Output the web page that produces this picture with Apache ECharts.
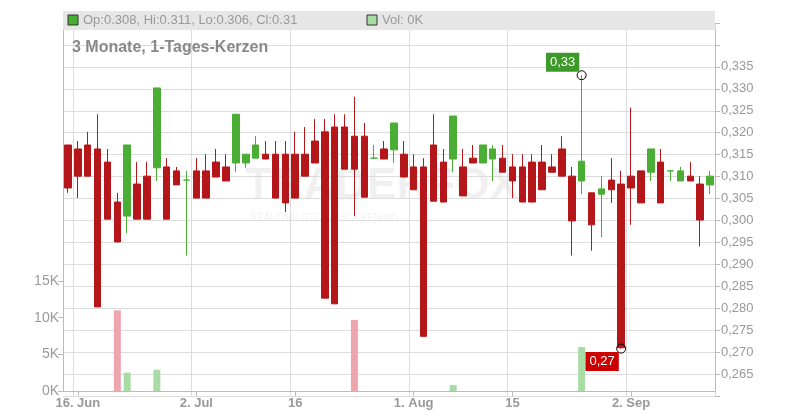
<!DOCTYPE html>
<html><head><meta charset="utf-8">
<script src="https://cdn.jsdelivr.net/npm/echarts@6/dist/echarts.min.js"></script>
<style>html,body{margin:0;padding:0;background:#fff}#c{width:800px;height:420px}</style>
</head><body><div id="c"></div>
<script>
const dates = ["2025-06-13","2025-06-16","2025-06-17","2025-06-18","2025-06-19","2025-06-20","2025-06-23","2025-06-24","2025-06-25","2025-06-26","2025-06-27","2025-06-30",
"2025-07-01","2025-07-02","2025-07-03","2025-07-04","2025-07-07","2025-07-08","2025-07-09","2025-07-10","2025-07-11","2025-07-14","2025-07-15","2025-07-16","2025-07-17","2025-07-18","2025-07-21","2025-07-22","2025-07-23","2025-07-24","2025-07-25","2025-07-28","2025-07-29","2025-07-30","2025-07-31",
"2025-08-01","2025-08-04","2025-08-05","2025-08-06","2025-08-07","2025-08-08","2025-08-11","2025-08-12","2025-08-13","2025-08-14","2025-08-15","2025-08-18","2025-08-19","2025-08-20","2025-08-21","2025-08-22","2025-08-25","2025-08-26","2025-08-27","2025-08-28","2025-08-29",
"2025-09-01","2025-09-02","2025-09-03","2025-09-04","2025-09-05","2025-09-08","2025-09-09","2025-09-10","2025-09-11","2025-09-12"];
const tickLabels = {"2025-06-16":"16. Jun","2025-07-02":"2. Jul","2025-07-16":"16","2025-08-01":"1. Aug","2025-08-15":"15","2025-09-02":"2. Sep"};
const open  = [.3172,.3163,.3172,.3163,.3133,.3042,.3010,.3083,.3101,.3120,.3122,.3113,.3092,.3113,.3113,.3133,.3122,.3131,.3131,.3142,.3151,.3151,.3151,.3151,.3151,.3181,.3202,.3213,.3213,.3192,.3192,.3142,.3163,.3161,.3151,.3122,.3122,.3172,.3133,.3140,.3122,.3142,.3131,.3140,.3142,.3122,.3122,.3133,.3133,.3122,.3163,.3101,.3090,.3063,.3060,.3092,.3083,.3101,.3113,.3110,.3133,.3113,.3090,.3101,.3083,.3081];
const close = [.3074,.3101,.3101,.2803,.3003,.2951,.3172,.3003,.3003,.3302,.3003,.3081,.3092,.3051,.3051,.3099,.3090,.3242,.3151,.3172,.3140,.3051,.3040,.3051,.3101,.3131,.2823,.2810,.3117,.3117,.3053,.3142,.3140,.3222,.3099,.3070,.2736,.3044,.3042,.3238,.3056,.3131,.3172,.3163,.3110,.3090,.3042,.3042,.3070,.3110,.3101,.2999,.3135,.2990,.3072,.3070,.2710,.3074,.3040,.3163,.3040,.3113,.3113,.3090,.3001,.3101];
const low   = [.3063,.3051,.3101,.2803,.3003,.2951,.2971,.3003,.3003,.3090,.3003,.3081,.2920,.3051,.3051,.3099,.3090,.3110,.3120,.3142,.3140,.3051,.3019,.3051,.3101,.3131,.2823,.2810,.3117,.3010,.3053,.3142,.3140,.3131,.3099,.3070,.2736,.3044,.3042,.3110,.3056,.3131,.3131,.3090,.3110,.3051,.3042,.3042,.3070,.3110,.3101,.2920,.3060,.2931,.2962,.3040,.2708,.2990,.3040,.3090,.3040,.3090,.3090,.3090,.2941,.3060];
const high  = [.3172,.3181,.3202,.3242,.3163,.3063,.3172,.3133,.3133,.3302,.3142,.3122,.3113,.3142,.3151,.3163,.3151,.3242,.3151,.3192,.3181,.3181,.3181,.3202,.3213,.3231,.3231,.3242,.3242,.3282,.3222,.3172,.3181,.3222,.3181,.3151,.3142,.3242,.3163,.3238,.3163,.3172,.3172,.3172,.3172,.3151,.3151,.3151,.3172,.3151,.3192,.3122,.3331,.3063,.3101,.3142,.3113,.3257,.3113,.3163,.3163,.3113,.3122,.3133,.3101,.3113];
const volume = {5:11000,6:2500,9:2900,29:9700,39:800,52:6000};

const RED='#b5161a', GREEN='#4aae34';
const candle = dates.map((d,i)=>{
  const up = close[i] >= open[i];
  const c = up?GREEN:RED;
  return {value:[open[i],close[i],low[i],high[i]], itemStyle:{color:c,color0:c,borderColor:c,borderColor0:c}};
});
const vol = dates.map((d,i)=>{
  if(!(i in volume)) return null;
  const up = close[i] >= open[i];
  return {value:volume[i], itemStyle:{color: up?'#a9dca4':'#eea5ad'}};
});
const showIdx = (i)=> dates[i] in tickLabels;

const chart = echarts.init(document.getElementById('c'));
chart.setOption({
  animation:false,
  grid:[{left:63,right:85,top:23,bottom:24},{left:63,right:85,top:281,bottom:29},{left:63,right:85,top:30,bottom:29}],
  xAxis:[
    {type:'category',data:dates,gridIndex:0,boundaryGap:true,axisLine:{show:false},axisTick:{show:false},axisLabel:{show:false},
     splitLine:{show:true,interval:(i)=>showIdx(i),lineStyle:{color:'#dcdcdc'}}},
    {type:'category',data:dates,gridIndex:1,boundaryGap:true,axisLine:{lineStyle:{color:'#bbb'}},
     axisTick:{show:true,alignWithLabel:true,interval:(i)=>showIdx(i),lineStyle:{color:'#bbb'}},
     axisLabel:{interval:(i)=>showIdx(i),formatter:(v)=>tickLabels[v]||'',color:'#999',fontSize:13,fontWeight:'bold',fontFamily:'Liberation Sans, Arial',margin:6}},
    {type:'category',data:dates,gridIndex:2,show:false}
  ],
  yAxis:[
    {type:'value',gridIndex:0,position:'right',min:0.26,max:0.345,interval:0.005,
     axisLine:{show:false},axisTick:{show:true,length:5,lineStyle:{color:'#bbb'}},
     splitLine:{lineStyle:{color:'#dcdcdc'}},
     axisLabel:{color:'#999',fontSize:13,fontFamily:'Liberation Sans, Arial',margin:6,
       formatter:(v)=> (v<0.262||v>0.337)?'':v.toFixed(3).replace('.',',')}},
    {type:'value',gridIndex:1,position:'left',min:0,max:15000,interval:5000,
     axisLine:{show:false},axisTick:{show:true,length:5,lineStyle:{color:'#bbb'}},splitLine:{show:false},
     axisLabel:{color:'#999',fontSize:14,fontFamily:'Liberation Sans, Arial',margin:4,formatter:(v)=>(v/1000)+'K'}},
    {type:'value',gridIndex:2,position:'left',min:0,max:1,axisLabel:{show:false},axisTick:{show:false},splitLine:{show:false},
     axisLine:{show:true,lineStyle:{color:'#bbb'}}},
    {type:'value',gridIndex:2,position:'right',min:0,max:1,axisLabel:{show:false},axisTick:{show:false},splitLine:{show:false},
     axisLine:{show:true,lineStyle:{color:'#bbb'}}}
  ],
  series:[
    {type:'bar',xAxisIndex:1,yAxisIndex:1,data:vol,barWidth:7,z:1},
    {type:'candlestick',xAxisIndex:0,yAxisIndex:0,data:candle,barWidth:7,z:3,
     markPoint:{data:[
       {coord:[52,high[52]],symbol:'circle',symbolSize:9,itemStyle:{color:'rgba(255,255,255,0)',borderColor:'#000',borderWidth:1},
        label:{show:true,formatter:'0,33',position:'inside',offset:[-19,-13],color:'#fff',fontSize:13,backgroundColor:'#3d9a2a',padding:[3,4]}},
       {coord:[56,low[56]],symbol:'circle',symbolSize:9,itemStyle:{color:'rgba(255,255,255,0)',borderColor:'#000',borderWidth:1},
        label:{show:true,formatter:'0,27',position:'inside',offset:[-19,13],color:'#fff',fontSize:13,backgroundColor:'#cc0000',padding:[3,4]}}
     ]}}
  ],
  graphic:[
    {type:'text',left:245,top:165,z:0,style:{text:'TRADERFOX',fill:'rgba(0,0,0,0.06)',font:'bold 44px Liberation Sans'}},
    {type:'text',left:250,top:213,z:0,style:{text:'REALTIME STOCK SCREENING',fill:'rgba(0,0,0,0.06)',font:'10px Liberation Sans'}},
    {type:'rect',shape:{x:63,y:11,width:652,height:19},style:{fill:'#e6e6e6'},z:10},
    {type:'rect',shape:{x:68,y:15,width:10,height:10},style:{fill:GREEN,stroke:'#333',lineWidth:1},z:11},
    {type:'text',x:83,y:14,style:{text:'Op:0.308, Hi:0.311, Lo:0.306, Cl:0.31',fill:'#999',font:'13px Liberation Sans'},z:11},
    {type:'rect',shape:{x:367,y:15,width:10,height:10},style:{fill:'#a9dca4',stroke:'#333',lineWidth:1},z:11},
    {type:'text',x:382,y:14,style:{text:'Vol: 0K',fill:'#999',font:'13px Liberation Sans'},z:11},
    {type:'text',x:72,y:40,style:{text:'3 Monate, 1-Tages-Kerzen',fill:'#888',font:'bold 16px Liberation Sans'},z:11}
  ]
});
</script></body></html>
